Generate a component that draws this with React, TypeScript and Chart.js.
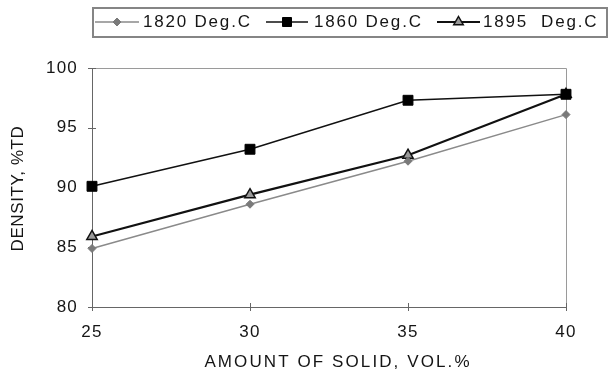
import React, { useEffect, useRef } from 'react';
import { Chart, registerables } from 'chart.js';

Chart.register(...registerables);

// ---- data ----
const xValues = [25, 30, 35, 40];
const series1820 = [84.9, 88.6, 92.2, 96.1];
const series1860 = [90.1, 93.2, 97.3, 97.8];
const series1895 = [85.9, 89.4, 92.7, 97.8];
const seriesLabels = ['1820 Deg.C', '1860 Deg.C', '1895  Deg.C'];
const xTicks = [25, 30, 35, 40];
const yTicks = [80, 85, 90, 95, 100];
const xTitle = 'AMOUNT OF SOLID, VOL.%';
const yTitle = 'DENSITY, %TD';

const FONT = '"Liberation Sans", Arial, Helvetica, sans-serif';
const TEXT = '#151515';

type MarkerStyle = { kind: string; fill: string; stroke: string; size: number; lw: number };
const legendMarkers: MarkerStyle[] = [
  { kind: 'diamond', fill: '#7a7a7a', stroke: '#7a7a7a', size: 4, lw: 1 },
  { kind: 'square', fill: '#000', stroke: '#000', size: 4.5, lw: 1 },
  { kind: 'triangle', fill: '#9a9a9a', stroke: '#111', size: 5.5, lw: 1.5 },
];
const lineColors = ['#8a8a8a', '#111', '#111'];
const lineWidths = [1.5, 1.5, 2.2];

function drawMarker(ctx: CanvasRenderingContext2D, m: MarkerStyle, x: number, y: number) {
  ctx.save();
  ctx.fillStyle = m.fill;
  ctx.strokeStyle = m.stroke;
  ctx.lineWidth = m.lw;
  ctx.beginPath();
  if (m.kind === 'diamond') {
    ctx.moveTo(x - m.size, y);
    ctx.lineTo(x, y - m.size);
    ctx.lineTo(x + m.size, y);
    ctx.lineTo(x, y + m.size);
    ctx.closePath();
  } else if (m.kind === 'square') {
    ctx.rect(x - m.size, y - m.size, m.size * 2, m.size * 2);
  } else {
    const r = m.size;
    ctx.moveTo(x, y - r);
    ctx.lineTo(x + r * 0.866, y + r * 0.5);
    ctx.lineTo(x - r * 0.866, y + r * 0.5);
    ctx.closePath();
  }
  ctx.fill();
  ctx.stroke();
  ctx.restore();
}

const decor = {
  id: 'decor',
  beforeDraw(chart: any) {
    chart.ctx.letterSpacing = '1.2px';
  },
  beforeDatasetsDraw(chart: any) {
    const { ctx, chartArea: a, scales } = chart;
    ctx.save();
    // frame top and right
    ctx.strokeStyle = '#9a9a9a';
    ctx.lineWidth = 1;
    ctx.beginPath();
    ctx.moveTo(a.left, Math.round(a.top) + 0.5);
    ctx.lineTo(Math.round(a.right) + 0.5, Math.round(a.top) + 0.5);
    ctx.lineTo(Math.round(a.right) + 0.5, a.bottom);
    ctx.stroke();
    // tick marks crossing axes
    ctx.strokeStyle = '#666';
    ctx.beginPath();
    yTicks.forEach((v) => {
      const py = Math.round(scales.y.getPixelForValue(v)) + 0.5;
      ctx.moveTo(a.left - 4, py);
      ctx.lineTo(a.left + 4, py);
    });
    xTicks.forEach((v) => {
      const px = Math.round(scales.x.getPixelForValue(v)) + 0.5;
      ctx.moveTo(px, a.bottom - 4);
      ctx.lineTo(px, a.bottom + 4);
    });
    ctx.stroke();
    ctx.restore();
  },
  afterDraw(chart: any) {
    const { ctx, chartArea: a } = chart;
    ctx.save();
    ctx.fillStyle = TEXT;
    // x title
    ctx.font = `17px ${FONT}`;
    ctx.letterSpacing = '2.1px';
    ctx.textAlign = 'center';
    ctx.textBaseline = 'middle';
    ctx.fillText(xTitle, 338, 362);
    // y title
    ctx.save();
    ctx.letterSpacing = '0.6px';
    ctx.translate(18, (a.top + a.bottom) / 2 + 1);
    ctx.rotate(-Math.PI / 2);
    ctx.fillText(yTitle, 0, 0);
    ctx.restore();

    // legend box
    ctx.letterSpacing = '1.8px';
    ctx.strokeStyle = '#858585';
    ctx.lineWidth = 2;
    ctx.strokeRect(93, 8, 514, 29);
    const ly = 22;
    const items = [
      { l0: 95, l1: 139, tx: 143 },
      { l0: 266, l1: 308, tx: 314 },
      { l0: 437, l1: 480, tx: 483 },
    ];
    items.forEach((it, i) => {
      ctx.strokeStyle = lineColors[i];
      ctx.lineWidth = lineWidths[i];
      ctx.beginPath();
      ctx.moveTo(it.l0, ly);
      ctx.lineTo(it.l1, ly);
      ctx.stroke();
      drawMarker(ctx, legendMarkers[i], (it.l0 + it.l1) / 2, ly);
      ctx.fillStyle = TEXT;
      ctx.font = `17px ${FONT}`;
      ctx.textAlign = 'left';
      ctx.textBaseline = 'middle';
      ctx.fillText(seriesLabels[i], it.tx, ly);
    });
    ctx.restore();
    ctx.letterSpacing = '0px';
  },
};

function pts(vals: number[]) {
  return xValues.map((x, i) => ({ x, y: vals[i] }));
}

export default function App() {
  const ref = useRef<HTMLCanvasElement | null>(null);
  useEffect(() => {
    if (!ref.current) return;
    const allSeries = [series1820, series1860, series1895];
    const pointStyles = ['rectRot', 'rect', 'triangle'];
    const radii = [4, 7, 6];
    const fills = ['#7a7a7a', '#000', '#9a9a9a'];
    const strokes = ['#7a7a7a', '#000', '#111'];
    const pbw = [1, 1, 1.5];
    const chart = new Chart(ref.current, {
      type: 'line',
      data: {
        datasets: allSeries.map((s, i) => ({
          label: seriesLabels[i],
          data: pts(s),
          borderColor: lineColors[i],
          borderWidth: lineWidths[i],
          pointStyle: pointStyles[i] as any,
          pointRadius: radii[i],
          pointBackgroundColor: fills[i],
          pointBorderColor: strokes[i],
          pointBorderWidth: pbw[i],
          tension: 0,
          clip: false as any,
        })),
      },
      options: {
        animation: false,
        responsive: false,
        layout: { padding: { top: 68, right: 43, left: 0, bottom: 0 } },
        plugins: { legend: { display: false }, tooltip: { enabled: false } },
        scales: {
          x: {
            type: 'linear',
            min: 25,
            max: 40,
            afterBuildTicks: (s: any) => {
              s.ticks = xTicks.map((v) => ({ value: v }));
            },
            ticks: { padding: 15, color: TEXT, font: { size: 17, family: FONT } },
            grid: { display: false, drawTicks: false },
            border: { display: true, color: '#666', width: 1 },
            afterFit: (s: any) => {
              s.height = 70;
            },
          },
          y: {
            type: 'linear',
            min: 80,
            max: 100,
            afterBuildTicks: (s: any) => {
              s.ticks = yTicks.map((v) => ({ value: v }));
            },
            ticks: { padding: 14, color: TEXT, font: { size: 17, family: FONT } },
            grid: { display: false, drawTicks: false },
            border: { display: true, color: '#666', width: 1 },
            afterFit: (s: any) => {
              s.width = 92;
            },
          },
        },
      },
      plugins: [decor],
    } as any);
    return () => chart.destroy();
  }, []);
  return (
    <div style={{ position: 'fixed', left: 0, top: 0, width: 609, height: 377, background: '#fff' }}>
      <canvas ref={ref} width={609} height={377} />
    </div>
  );
}
